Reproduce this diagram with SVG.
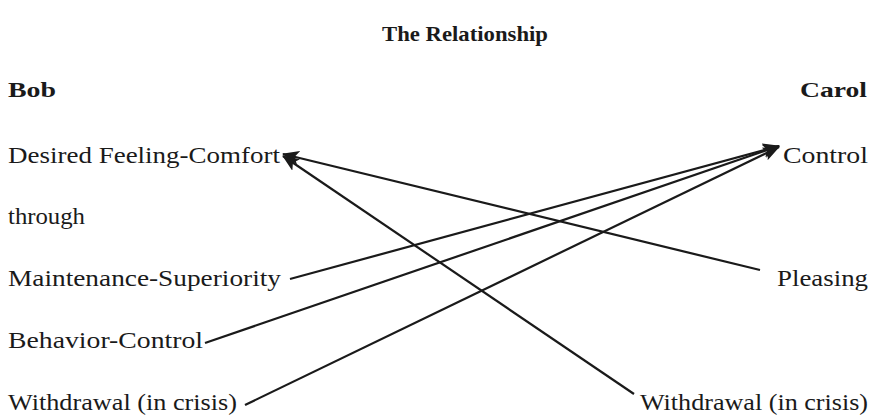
<svg xmlns="http://www.w3.org/2000/svg" width="876" height="419" viewBox="0 0 876 419">
<defs>
<style>
.t{font-family:"Liberation Serif","DejaVu Serif",serif;font-size:23px;fill:#1a1a1a}
.b{font-family:"Liberation Serif","DejaVu Serif",serif;font-size:22px;font-weight:bold;fill:#1a1a1a}
.c{stroke:#1a1a1a;stroke-width:2.2;fill:none;marker-end:url(#ah)}
</style>
<marker id="ah" markerUnits="userSpaceOnUse" markerWidth="18" markerHeight="14" refX="16" refY="7" orient="auto">
<path d="M0,0 L17,7 L0,14 L4,7 Z" fill="#1a1a1a"/>
</marker>
</defs>
<rect width="876" height="419" fill="#fff"/>
<text class="b" x="382" y="41" textLength="166" lengthAdjust="spacingAndGlyphs">The Relationship</text>
<g id="bob"><text class="b" x="8" y="97" textLength="48" lengthAdjust="spacingAndGlyphs">Bob</text></g>
<g id="carol"><text class="b" x="800" y="97" textLength="67" lengthAdjust="spacingAndGlyphs">Carol</text></g>
<g id="desired"><text class="t" x="8" y="163" textLength="272" lengthAdjust="spacingAndGlyphs">Desired Feeling-Comfort</text></g>
<g id="through"><text class="t" x="8" y="224" textLength="77" lengthAdjust="spacingAndGlyphs">through</text></g>
<g id="maintenance"><text class="t" x="8" y="286" textLength="273" lengthAdjust="spacingAndGlyphs">Maintenance-Superiority</text></g>
<g id="behavior"><text class="t" x="8" y="348" textLength="195" lengthAdjust="spacingAndGlyphs">Behavior-Control</text></g>
<g id="withdrawal-bob"><text class="t" x="8" y="410" textLength="229" lengthAdjust="spacingAndGlyphs">Withdrawal (in crisis)</text></g>
<g id="control"><text class="t" x="783" y="163" textLength="85" lengthAdjust="spacingAndGlyphs">Control</text></g>
<g id="pleasing"><text class="t" x="777" y="286" textLength="91" lengthAdjust="spacingAndGlyphs">Pleasing</text></g>
<g id="withdrawal-carol"><text class="t" x="640" y="410" textLength="228" lengthAdjust="spacingAndGlyphs">Withdrawal (in crisis)</text></g>
<g id="connectors">
<line class="c" x1="760" y1="270" x2="283" y2="154"/>
<line class="c" x1="634" y1="394" x2="283" y2="156"/>
<line class="c" x1="290" y1="279" x2="779" y2="146"/>
<line class="c" x1="205" y1="343" x2="779" y2="146"/>
<line class="c" x1="245" y1="405" x2="779" y2="147"/>
</g>
</svg>
